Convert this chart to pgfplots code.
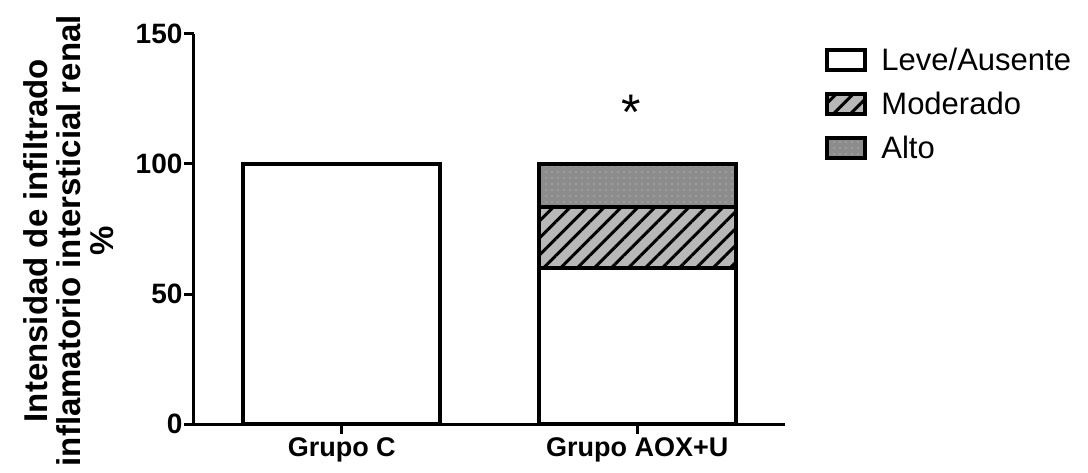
\documentclass[border=0pt]{standalone}
\usepackage{fontspec}
\setmainfont{Liberation Sans}
\usepackage{pgfplots}
\pgfplotsset{compat=1.18}
\usetikzlibrary{patterns.meta}

\definecolor{hatchgray}{HTML}{B8B8B8}
\definecolor{altogray}{HTML}{8C8C8C}
\definecolor{dotgray}{HTML}{B0B0B0}

\begin{document}
\begin{tikzpicture}
\useasboundingbox (-194pt,-48pt) rectangle (894pt,424pt);
\begin{axis}[
  at={(0,0)}, anchor=south west,
  scale only axis, width=591pt, height=390pt,
  xmin=-0.5, xmax=1.5, ymin=0, ymax=150,
  axis lines*=left,
  axis line style={line width=3pt},
  xtick={0,1}, xticklabels={Grupo C, Grupo AOX+U},
  ytick={0,50,100,150},
  tick align=outside, major tick length=10pt,
  tick style={line width=3pt, black},
  /pgf/number format/assume math mode=true,
  yticklabel style={font=\fontsize{28}{30}\selectfont\bfseries, xshift=2pt},
  xticklabel style={font=\fontsize{27}{30}\selectfont\bfseries},
  ylabel={Intensidad de infiltrado\\inflamatorio intersticial renal\\\%},
  ylabel style={align=center, font=\fontsize{33}{33}\selectfont\bfseries,
    at={(axis description cs:-0.130,0.47)}, anchor=south},
  ybar stacked, bar width=197pt,
  every axis plot/.append style={draw=black, line width=4pt},
  legend image code/.code={\draw[#1, line width=4pt] (0pt,-10pt) rectangle (38pt,10pt);},
  legend style={at={(axis description cs:1.063,0.975)}, anchor=north west,
    draw=none, fill=none, font=\fontsize{31}{34}\selectfont,
    row sep=16pt,
    /tikz/every odd column/.append style={column sep=12pt}},
  legend cell align=left,
]
% Leve/Ausente
\addplot[fill=white] coordinates {(0,100) (1,60)};
% Moderado
\addplot[fill=hatchgray,
  postaction={pattern={Lines[angle=45,distance=12pt,line width=3pt]}, pattern color=black}]
  coordinates {(0,0) (1,23.3)};
% Alto
\addplot[fill=altogray,
  postaction={pattern={Dots[distance=6pt,radius=0.8pt]}, pattern color=dotgray}]
  coordinates {(0,0) (1,16.7)};
\legend{Leve/Ausente, Moderado, Alto}
\node[font=\fontsize{50}{50}\selectfont] at (axis cs:0.98,120) {*};
\end{axis}
\end{tikzpicture}
\end{document}
